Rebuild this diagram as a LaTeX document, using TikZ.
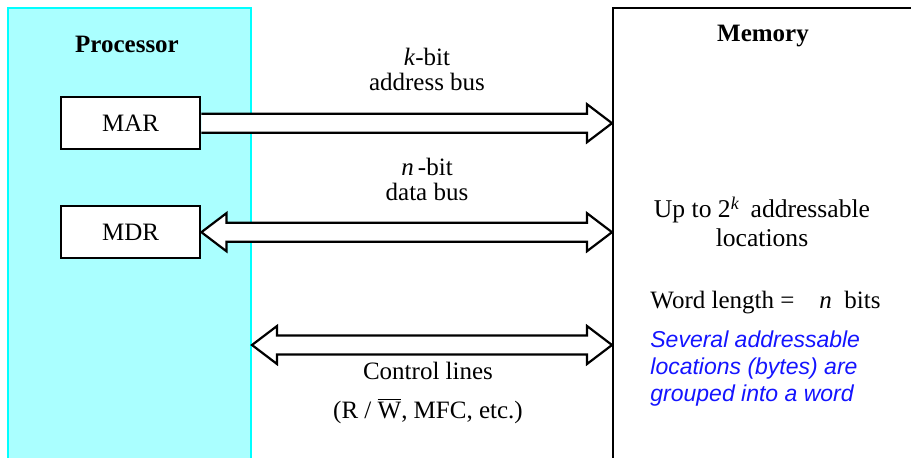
\documentclass[tikz,border=0pt]{standalone}
\usepackage{fontspec}
\setmainfont{Liberation Serif}
\newfontfamily\arialfont{Liberation Sans}
\usepackage{xcolor}
\usetikzlibrary{positioning,calc}

\definecolor{procfill}{RGB}{170,255,255}
\definecolor{procline}{RGB}{0,255,255}
\definecolor{noteblue}{RGB}{20,20,255}

\begin{document}
\begin{tikzpicture}[
  x=0.5pt, y=-0.5pt,
  txt/.style={font=\fontsize{12.5}{12.5}\selectfont, align=center, inner sep=0pt},
  unit/.style={draw, anchor=north west, minimum height=240pt, inner sep=0pt},
  reg/.style={draw, line width=1.2pt, fill=white, anchor=north west, minimum width=69.5pt, minimum height=26pt, txt},
  bus/.style={draw, line width=1.1pt, fill=white, line join=miter}
]
\clip (0,0) rectangle (911,457);

% units
\node[unit, fill=procfill, draw=procline, line width=1pt, minimum width=121.5pt] (proc) at (7,7) {};
\node[unit, fill=white, line width=1pt, minimum width=170pt] (mem) at (612,7) {};
\node[txt, font=\fontsize{12.5}{12.5}\selectfont\bfseries] (lblProc) at (127,44) {Processor};
\node[txt, font=\fontsize{12.5}{12.5}\selectfont\bfseries] (lblMem) at (763,36) {Memory};

% registers
\node[reg] (mar) at (60,96) {MAR};
\node[reg] (mdr) at (60,205) {MDR};

% bus end points
\coordinate (aR) at (mem.west |- mar.east);
\coordinate (dL) at (mdr.east);
\coordinate (dR) at (mem.west |- mdr.east);
\coordinate (cL) at (proc.east |- 0,345);
\coordinate (cR) at (mem.west |- cL);

% address bus
\draw[bus] ($(mar.east)+(0,-9.5)$) -- ($(aR)+(-25,-9.5)$) -- ++(0,-9.5) -- (aR)
  -- ++(-25,19) -- ++(0,-9.5) -- ($(mar.east)+(0,9.5)$);
% data bus
\draw[bus] (dL) -- ++(25,-19) -- ++(0,9.5) -- ($(dR)+(-25,-9.5)$) -- ++(0,-9.5) -- (dR)
  -- ++(-25,19) -- ++(0,-9.5) -- ($(dL)+(25,9.5)$) -- ++(0,9.5) -- cycle;
% control lines
\draw[bus] (cL) -- ++(25,-19) -- ++(0,9.5) -- ($(cR)+(-25,-9.5)$) -- ++(0,-9.5) -- (cR)
  -- ++(-25,19) -- ++(0,-9.5) -- ($(cL)+(25,9.5)$) -- ++(0,9.5) -- cycle;

% bus labels
\node[txt] (lblAddr) at (427,69) {\textit{k}-bit\\address bus};
\node[txt] (lblData) at (427,179) {\textit{n}\,-bit\\data bus};
\node[txt] (lblCtl) at (428,393) {Control lines\\[7pt](R / $\overline{\mbox{W}}$, MFC, etc.)};

% memory text
\node[txt, font=\fontsize{12.8}{14.5}\selectfont] (lblLoc) at (762,222) {Up to 2\textsuperscript{\textit{k}}\, addressable\\locations};
\node[txt, anchor=west] (lblWord) at (650,303) {Word length =\quad\textit{n}\enspace bits};
\node[anchor=north west, inner sep=0pt, align=left, text=noteblue,
  font=\arialfont\itshape\fontsize{11.5}{13.6}\selectfont] (lblNote) at (650,330)
  {Several addressable\\locations (bytes) are\\grouped into a word};
\end{tikzpicture}
\end{document}
